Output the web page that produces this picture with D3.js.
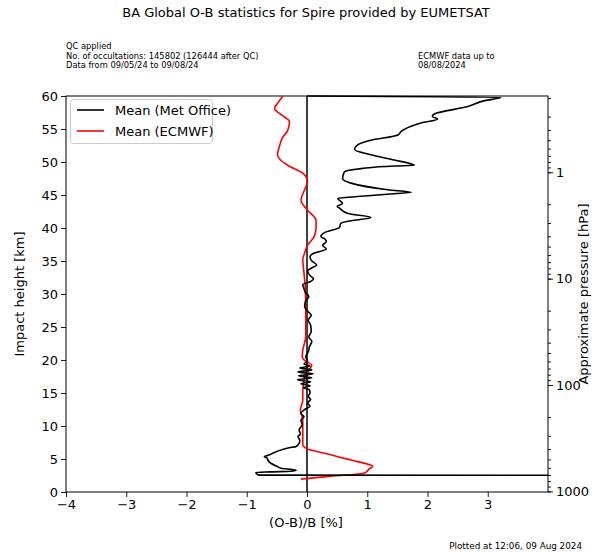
<!DOCTYPE html>
<html><head><meta charset="utf-8">
<script src="https://cdn.jsdelivr.net/npm/d3@7"></script>
<style>
html,body{margin:0;padding:0;background:#fff;}
svg{display:block;font-family:"DejaVu Sans",sans-serif;}
</style></head><body>
<svg id="chart" width="598" height="552"></svg>
<script>
// ---- data ----
const metHeight = [60.0,59.8,59.3,58.4,57.3,56.9,56.5,55.9,54.6,54.1,53.3,52.6,51.9,51.1,50.3,49.5,49.4,49.0,48.5,47.5,46.8,45.8,45.4,45.2,44.8,44.5,43.7,43.3,43.0,42.2,41.6,41.1,40.7,40.1,39.3,38.7,38.3,37.9,37.4,36.8,36.2,35.7,35.0,34.4,33.9,33.5,32.8,32.3,31.9,31.4,30.8,30.3,29.6,29.0,28.1,27.5,26.8,26.0,25.3,24.3,23.5,22.8,22.0,21.2,20.5,19.8,19.4,19.1,18.8,18.5,18.2,17.9,17.6,17.3,17.0,16.7,16.4,16.1,15.8,15.5,15.0,14.5,14.0,13.5,13.0,12.5,11.9,11.4,10.9,10.2,9.4,8.8,8.4,7.8,7.4,6.9,6.7,6.5,6.0,5.6,5.35,5.1,4.85,4.35,3.9,3.6,3.4,3.3,3.15,3.05,2.95,2.55,2.45];
const metMean = [0.0,3.22,2.95,2.67,2.12,2.08,2.17,1.89,1.56,1.51,1.06,0.84,0.79,1.06,1.45,1.78,1.45,0.90,0.62,0.59,0.73,1.34,1.73,1.45,0.90,0.51,0.59,0.50,0.54,0.68,1.06,0.73,0.56,0.54,0.29,0.23,0.30,0.32,0.26,0.32,0.12,0.05,0.08,0.16,0.07,0.01,0.05,0.11,0.06,-0.07,-0.05,-0.03,0.03,-0.02,-0.04,0.00,0.07,0.02,0.06,0.07,0.03,0.08,0.04,0.02,-0.02,0.01,-0.05,0.05,-0.12,0.08,-0.15,0.10,-0.14,0.08,-0.16,0.06,-0.10,0.05,-0.06,0.04,0.05,0.02,0.06,0.01,0.05,-0.04,-0.10,-0.05,-0.10,-0.08,-0.13,-0.11,-0.15,-0.12,-0.13,-0.18,-0.30,-0.38,-0.54,-0.63,-0.71,-0.66,-0.65,-0.60,-0.50,-0.43,-0.25,-0.18,-0.27,-0.60,-0.85,-0.80,30];

const ecHeight = [60.0,59.0,58.1,57.0,56.1,54.8,53.6,52.3,51.1,50.3,49.5,48.3,47.0,45.8,44.2,42.7,41.2,40.0,38.7,37.4,36.2,35.2,34.1,31.1,27.1,25.0,23.6,21.5,20.5,19.8,19.2,18.5,17.0,15.0,13.9,12.4,11.4,10.9,8.4,7.1,6.8,6.5,6.1,5.9,5.35,4.85,4.6,3.9,3.4,3.08,2.8,2.4,1.95];
const ecMean = [-0.40,-0.48,-0.54,-0.40,-0.29,-0.32,-0.41,-0.46,-0.49,-0.44,-0.32,-0.07,0.01,-0.04,-0.10,0.01,0.15,0.15,0.12,0.01,-0.04,-0.07,-0.06,-0.03,-0.02,-0.02,-0.02,-0.07,-0.08,-0.02,0.08,0.03,-0.05,-0.07,-0.07,-0.11,-0.08,-0.07,-0.07,-0.07,-0.04,0.01,0.18,0.28,0.51,0.73,0.84,1.09,1.02,0.99,0.92,0.40,-0.10];

const xTicks = [-4,-3,-2,-1,0,1,2,3];
const yTicks = [0,5,10,15,20,25,30,35,40,45,50,55,60];
const pTicks = [1,10,100,1000];
const seriesNames = ["Mean (Met Office)","Mean (ECMWF)"];
const seriesColors = ["#000000","#ff0000"];

const titleText = "BA Global O-B statistics for Spire provided by EUMETSAT";
const infoLeft = ["QC applied","No. of occultations: 145802 (126444 after QC)","Data from 09/05/24 to 09/08/24"];
const infoRight = ["ECMWF data up to","08/08/2024"];
const footText = "Plotted at 12:06, 09 Aug 2024";

// ---- layout ----
const L = 66, R = 548, T = 96, B = 492;
const svg = d3.select("#chart");

const x = d3.scaleLinear().domain([-4, 4]).range([L, R]);
const y = d3.scaleLinear().domain([0, 60]).range([B, T]);
const p = d3.scaleLog().domain([1013.25*Math.exp(-60/7), 1013.25]).range([T, B]);

svg.append("defs").append("clipPath").attr("id","clip")
  .append("rect").attr("x",L).attr("y",T-1).attr("width",R-L).attr("height",B-T+2);

// title & info
svg.append("text").attr("x",306).attr("y",17).attr("text-anchor","middle")
  .attr("font-size",13).text(titleText);
infoLeft.forEach((t,i)=> svg.append("text").attr("x",L).attr("y",49+i*9.5)
  .attr("font-size",8.3).text(t));
infoRight.forEach((t,i)=> svg.append("text").attr("x",418).attr("y",58.5+i*9.5)
  .attr("font-size",8.3).text(t));
svg.append("text").attr("x",582).attr("y",549).attr("text-anchor","end")
  .attr("font-size",8.8).text(footText);

// axes
const fs = 13;
const gx = svg.append("g").attr("transform",`translate(0,${B})`)
  .call(d3.axisBottom(x).tickValues(xTicks).tickSize(5).tickPadding(3)
    .tickFormat(d=> d<0 ? "\u2212"+Math.abs(d) : d));
const gy = svg.append("g").attr("transform",`translate(${L},0)`)
  .call(d3.axisLeft(y).tickValues(yTicks).tickSize(5).tickPadding(3));
const minor = [];
for (let e=-1;e<=3;e++) for (let k=1;k<=9;k++){ const v=k*Math.pow(10,e); if(v>=p.domain()[0] && v<=p.domain()[1]) minor.push(v); }
const gp = svg.append("g").attr("transform",`translate(${R},0)`)
  .call(d3.axisRight(p).tickValues(minor).tickSize(3).tickFormat(""));
const gp2 = svg.append("g").attr("transform",`translate(${R},0)`)
  .call(d3.axisRight(p).tickValues(pTicks).tickSize(5).tickPadding(3).tickFormat(d3.format("d")));
[gx,gy,gp,gp2].forEach(g=>{
  g.selectAll("text").attr("font-size",fs).attr("font-family","DejaVu Sans").attr("fill","#000");
  g.selectAll("line").attr("stroke","#000").attr("stroke-width",0.9);
  g.select(".domain").remove();
});

// frame
svg.append("rect").attr("x",L).attr("y",T).attr("width",R-L).attr("height",B-T)
  .attr("fill","none").attr("stroke","#000").attr("stroke-width",1);

// zero line
svg.append("line").attr("x1",x(0)).attr("x2",x(0)).attr("y1",T).attr("y2",B)
  .attr("stroke","#000").attr("stroke-width",1.5);

// series
const line = d3.line().x(d=>x(d[1])).y(d=>y(d[0])).curve(d3.curveMonotoneY);
const plotG = svg.append("g").attr("clip-path","url(#clip)");
plotG.append("path").datum(ecHeight.map((h,i)=>[h,ecMean[i]]))
  .attr("d",line).attr("fill","none").attr("stroke",seriesColors[1]).attr("stroke-width",1.6).attr("stroke-linejoin","round");
plotG.append("path").datum(metHeight.map((h,i)=>[h,metMean[i]]))
  .attr("d",line).attr("fill","none").attr("stroke",seriesColors[0]).attr("stroke-width",1.6).attr("stroke-linejoin","round");

// axis labels
svg.append("text").attr("x",306).attr("y",527).attr("text-anchor","middle").attr("font-size",fs).text("(O-B)/B [%]");
svg.append("text").attr("transform",`translate(24,${(T+B)/2}) rotate(-90)`).attr("text-anchor","middle").attr("font-size",fs).text("Impact height [km]");
svg.append("text").attr("transform",`translate(588,${(T+B)/2}) rotate(-90)`).attr("text-anchor","middle").attr("font-size",fs).text("Approximate pressure [hPa]");

// legend
const lg = svg.append("g");
lg.append("rect").attr("x",70.5).attr("y",99.5).attr("width",142).attr("height",44)
  .attr("rx",3).attr("fill","#fff").attr("fill-opacity",0.8).attr("stroke","#ccc").attr("stroke-width",1);
seriesNames.forEach((n,i)=>{
  const yy = 110 + i*21;
  lg.append("line").attr("x1",77).attr("x2",104).attr("y1",yy).attr("y2",yy)
    .attr("stroke",seriesColors[i]).attr("stroke-width",1.6);
  lg.append("text").attr("x",115).attr("y",yy+4.5).attr("font-size",fs).text(n);
});
</script>
</body></html>
